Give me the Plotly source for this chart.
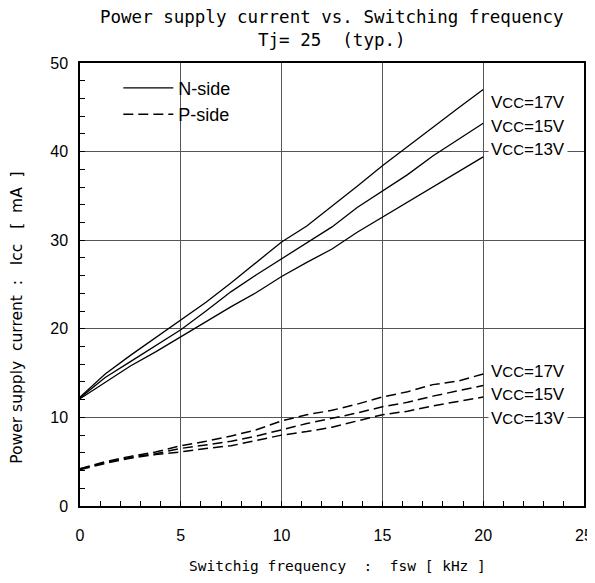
import plotly.graph_objects as go

# ---------------- data ----------------
fsw = [0, 1.25, 2.5, 3.75, 5, 6.25, 7.5, 8.75, 10, 11.25, 12.5, 13.75, 15, 16.25, 17.5, 18.75, 20]

n_17v = [12.3, 14.9, 17.0, 19.0, 21.0, 23.0, 25.2, 27.5, 29.8, 31.6, 33.8, 36.1, 38.4, 40.6, 42.8, 44.9, 47.0]
n_15v = [12.2, 14.5, 16.3, 18.1, 19.9, 22.0, 24.2, 26.1, 27.9, 29.7, 31.5, 33.7, 35.5, 37.4, 39.5, 41.4, 43.2]
n_13v = [12.1, 14.0, 15.8, 17.4, 19.1, 20.8, 22.5, 24.1, 25.9, 27.5, 29.0, 30.9, 32.6, 34.3, 36.0, 37.7, 39.4]

p_17v = [4.2, 5.0, 5.6, 6.1, 6.8, 7.3, 7.9, 8.6, 9.6, 10.3, 10.8, 11.5, 12.3, 12.9, 13.7, 14.1, 14.9]
p_15v = [4.2, 4.9, 5.5, 5.9, 6.5, 6.9, 7.3, 7.9, 8.6, 9.3, 9.9, 10.5, 11.2, 11.7, 12.4, 13.0, 13.6]
p_13v = [4.1, 4.8, 5.4, 5.8, 6.1, 6.5, 6.8, 7.4, 8.0, 8.4, 8.9, 9.6, 10.3, 10.7, 11.3, 11.8, 12.3]

vcc_labels = ["17V", "15V", "13V"]
x_ticks = [0, 5, 10, 15, 20, 25]
y_ticks = [0, 10, 20, 30, 40, 50]

title_text = "Power supply current vs. Switching frequency<br>Tj= 25  (typ.)"
x_title = "Switchig frequency  :  fsw [ kHz ]"
y_title = "Power supply  current  :   Icc   [  mA  ]"

# label anchor heights (layout)
n_label_y = [45.5, 42.8, 40.2]
p_label_y = [15.2, 12.6, 9.9]

# ---------------- figure ----------------
fig = go.Figure()

n_series = [n_17v, n_15v, n_13v]
p_series = [p_17v, p_15v, p_13v]

for i, ys in enumerate(n_series):
    fig.add_trace(go.Scatter(x=fsw, y=ys, mode="lines",
                             line=dict(color="black", width=1.3),
                             name="N-side", showlegend=(i == 0), legendrank=1))
for i, ys in enumerate(p_series):
    fig.add_trace(go.Scatter(x=fsw, y=ys, mode="lines",
                             line=dict(color="black", width=1.5, dash="10px,5px"),
                             name="P-side", showlegend=(i == 0), legendrank=2))

annots = []
cc = "<span style='font-size:15px'>CC</span>"
for lab, yy in list(zip(vcc_labels, n_label_y)) + list(zip(vcc_labels, p_label_y)):
    annots.append(dict(x=20, y=yy, xref="x", yref="y", text="V" + cc + "=" + lab,
                       showarrow=False, xanchor="left", yanchor="middle", xshift=5,
                       bgcolor="white", borderpad=2,
                       font=dict(family="Liberation Sans, Arial", size=17, color="black")))

# chart title
annots.append(dict(x=0.5, y=1.079, xref="paper", yref="paper", text=title_text,
                   showarrow=False, xanchor="center", yanchor="middle", align="center",
                   font=dict(family="DejaVu Sans Mono", size=17.5, color="black")))
# x-axis title
annots.append(dict(x=0.51, y=-0.136, xref="paper", yref="paper", text=x_title,
                   showarrow=False, xanchor="center", yanchor="middle",
                   font=dict(family="DejaVu Sans Mono", size=14.5, color="black")))
# y-axis title
annots.append(dict(x=-0.125, y=0.425, xref="paper", yref="paper", text=y_title,
                   showarrow=False, xanchor="center", yanchor="middle", textangle=-90,
                   font=dict(family="DejaVu Sans", size=15.5, color="black")))

# the page adds an 8px body margin, so the figure is sized/margined to compensate
fig.update_layout(
    width=587, height=567,
    margin=dict(l=72, r=11, t=55, b=69),
    paper_bgcolor="white", plot_bgcolor="white",
    legend=dict(x=0.076, y=0.985, xanchor="left", yanchor="top",
                bgcolor="rgba(0,0,0,0)", itemwidth=50,
                font=dict(family="Liberation Sans, Arial", size=18, color="black"),
                tracegroupgap=0),
    annotations=annots,
    showlegend=True,
)

fig.update_xaxes(
    range=[0, 25], tickvals=x_ticks, ticktext=[str(v) for v in x_ticks],
    showgrid=True, gridcolor="#555", gridwidth=1,
    showline=True, linecolor="black", linewidth=1.5, mirror=True,
    ticks="inside", ticklen=5, tickcolor="black",
    minor=dict(dtick=1, ticks="inside", ticklen=5, tickcolor="black", showgrid=False),
    tickfont=dict(family="Liberation Sans, Arial", size=16, color="black"),
    ticklabelstandoff=14, automargin=False, ticklabeloverflow="allow",
    zeroline=False,
)
fig.update_yaxes(
    range=[0, 50], tickvals=y_ticks, ticktext=[str(v) for v in y_ticks],
    showgrid=True, gridcolor="#555", gridwidth=1,
    showline=True, linecolor="black", linewidth=1.5, mirror=True,
    ticks="inside", ticklen=5, tickcolor="black",
    minor=dict(dtick=2, ticks="inside", ticklen=5, tickcolor="black", showgrid=False),
    tickfont=dict(family="Liberation Sans, Arial", size=16, color="black"),
    ticklabelstandoff=7, automargin=False,
    zeroline=False,
)

fig.write_html("out.html")
